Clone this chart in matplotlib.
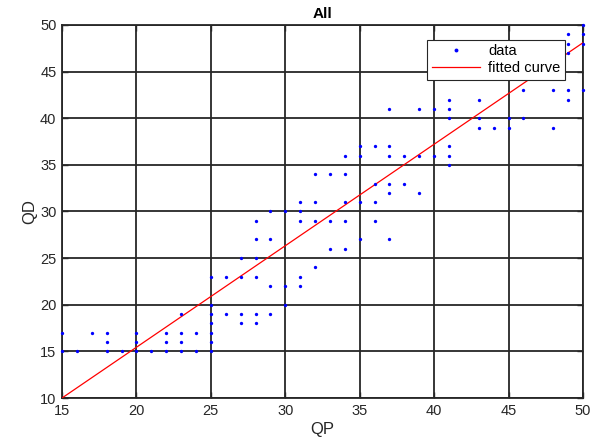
import matplotlib
matplotlib.use("Agg")
import matplotlib.pyplot as plt
import numpy as np

# data: QP value -> list of QD values
qp_groups = [15, 16, 17, 18, 19, 20, 21, 22, 23, 24, 25, 26, 27, 28, 29, 30,
             31, 32, 33, 34, 35, 36, 37, 38, 39, 40, 41, 43, 44, 45, 46, 48, 49, 50]
qd_groups = [
    [15, 17], [15], [17], [15, 16, 17], [15], [15, 16, 17], [15], [15, 16, 17],
    [15, 16, 17, 19], [15, 17], [15, 16, 17, 18, 19, 20, 23], [19, 23],
    [18, 19, 23, 25], [18, 19, 23, 25, 27, 29], [19, 22, 27, 30], [20, 22, 30],
    [22, 23, 29, 30, 31], [24, 29, 31, 34], [26, 29, 34], [26, 29, 31, 34, 36],
    [27, 31, 36, 37], [29, 31, 33, 37], [27, 32, 33, 36, 37, 41], [33, 36],
    [32, 36, 41], [36, 41], [35, 36, 37, 40, 41, 42], [39, 40, 42], [39],
    [39, 40], [40, 43], [39, 43], [42, 43, 47, 48, 49], [43, 48, 49, 50],
]
# fitted line coefficients (QD = p1*QP + p2)
p1 = 1.0886
p2 = -6.33

qp = np.concatenate([[x] * len(ys) for x, ys in zip(qp_groups, qd_groups)])
qd = np.concatenate(qd_groups)

plt.rcParams['font.family'] = ['Liberation Sans', 'DejaVu Sans']

fig = plt.figure(figsize=(6.04, 4.48), dpi=100)
ax = fig.add_axes([62 / 604, 1 - 398 / 448, (583 - 62) / 604, (398 - 25) / 448])

ax.plot(qp, qd, 'o', color='#0000ff', markersize=2.4, markeredgewidth=0,
        label='data', zorder=5, clip_on=False)
xf = np.linspace(15, 50, 200)
ax.plot(xf, p1 * xf + p2, '-', color='#ff0000', linewidth=0.9,
        label='fitted curve', zorder=4)

ax.set_xlim(15, 50)
ax.set_ylim(10, 50)
ax.set_xticks(np.arange(15, 51, 5))
ax.set_yticks(np.arange(10, 51, 5))
ax.grid(True, color='#262626', linewidth=1.3)
ax.set_axisbelow(True)
ax.tick_params(direction='in', top=True, right=True, length=4, width=1,
               labelsize=10.5, colors='#262626', pad=4)
for s in ax.spines.values():
    s.set_color('#262626')
    s.set_linewidth(1.3)

ax.set_title('All', fontsize=11, fontweight='bold', pad=5)
ax.set_xlabel('QP', fontsize=12, color='#262626', labelpad=3)
ax.set_ylabel('QD', fontsize=12, color='#262626', labelpad=2)

leg = ax.legend(loc='upper right', bbox_to_anchor=(0.9655, 0.96), fontsize=10.5,
                frameon=True, fancybox=False, framealpha=1, edgecolor='#262626',
                borderpad=0.3, handlelength=3.3, labelspacing=0.2,
                handletextpad=0.6, borderaxespad=0)
leg.set_zorder(10)
leg.get_frame().set_linewidth(0.8)
for h in leg.legend_handles:
    try:
        h.set_markersize(2.8)
    except Exception:
        pass

fig.savefig('out.png', dpi=100)
